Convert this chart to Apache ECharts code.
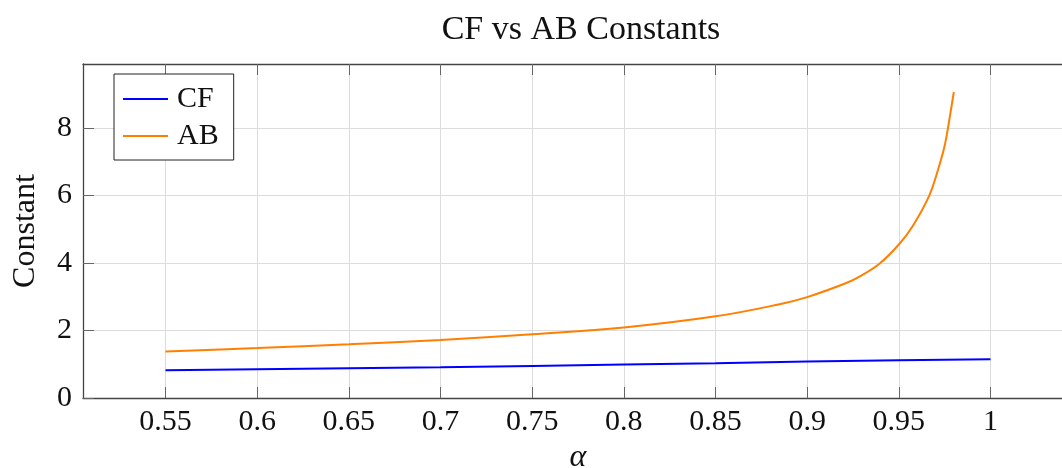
<!DOCTYPE html>
<html>
<head>
    <meta charset="utf-8">
    <title>CF vs AB Constants</title>
    <script src="https://cdn.jsdelivr.net/npm/echarts@6/dist/echarts.min.js"></script>
    <style>
        html, body { margin: 0; padding: 0; background: #fff; }
        #chart { width: 1062px; height: 468px; }
    </style>
</head>
<body>
<div id="chart"></div>
<script>
    // values
    var cfAlpha = [0.55, 0.6, 0.65, 0.7, 0.75, 0.8, 0.85, 0.9, 0.95, 1.0];
    var cfValues = [0.82, 0.85, 0.88, 0.91, 0.95, 0.99, 1.03, 1.08, 1.12, 1.15];

    var abAlpha = [0.55, 0.6, 0.65, 0.7, 0.75, 0.8, 0.85, 0.885, 0.9, 0.921, 0.9285, 0.9394, 0.95, 0.9576, 0.9666, 0.9713, 0.9744, 0.976, 0.978, 0.98];
    var abValues = [1.38, 1.48, 1.59, 1.72, 1.89, 2.09, 2.42, 2.78, 2.99, 3.40, 3.60, 3.98, 4.55, 5.10, 6.00, 6.75, 7.34, 7.75, 8.40, 9.07];

    var xTicks = [0.55, 0.6, 0.65, 0.7, 0.75, 0.8, 0.85, 0.9, 0.95, 1];
    var yTicks = [0, 2, 4, 6, 8];

    function pairs(xs, ys) {
        var out = [];
        for (var i = 0; i < xs.length; i++) out.push([xs[i], ys[i]]);
        return out;
    }

    var serif = '"Liberation Serif", "DejaVu Serif", serif';
    var axisColor = '#444';

    var myChart = echarts.init(document.getElementById('chart'));
    myChart.setOption({
        animation: false,
        title: {
            text: 'CF vs AB Constants',
            left: 576,
            textAlign: 'center',
            top: 8,
            textStyle: { fontFamily: serif, fontSize: 34, fontWeight: 'normal', color: '#111' }
        },
        legend: {
            orient: 'vertical',
            left: 114,
            top: 74,
            padding: [10, 15, 9, 9],
            itemGap: 7,
            itemWidth: 45,
            itemHeight: 2,
            icon: 'rect',
            borderColor: '#222',
            borderWidth: 1,
            backgroundColor: '#fff',
            textStyle: { fontFamily: serif, fontSize: 30, color: '#111', padding: [0, 0, 0, 4] },
            data: ['CF', 'AB']
        },
        grid: { left: 83, top: 64, bottom: 70, right: -11, show: false, outerBoundsMode: 'none', containLabel: false },
        xAxis: [{
            type: 'value',
            min: 0.505,
            max: 1.045,
            name: 'α',
            nameLocation: 'middle',
            nameGap: 41,
            nameTextStyle: { fontFamily: serif, fontSize: 32, fontStyle: 'italic', color: '#111' },
            axisLine: { show: true, onZero: false, lineStyle: { color: axisColor, width: 1.3 } },
            axisTick: { show: true, inside: true, length: 11, customValues: xTicks, lineStyle: { color: '#666' } },
            axisLabel: {
                customValues: xTicks, margin: 9,
                fontFamily: serif, fontSize: 30, color: '#111',
                formatter: function (v) { return String(+v.toFixed(2)); }
            },
            splitLine: { show: true, lineStyle: { color: '#dcdcdc', width: 1 } }
        }, {
            type: 'value',
            position: 'top',
            min: 0.505,
            max: 1.045,
            axisLine: { show: true, onZero: false, lineStyle: { color: axisColor, width: 1.3 } },
            axisTick: { show: true, inside: true, length: 11, customValues: xTicks, lineStyle: { color: '#666' } },
            axisLabel: { show: false },
            splitLine: { show: false }
        }],
        yAxis: [{
            type: 'value',
            min: 0,
            max: 9.9,
            name: 'Constant',
            nameLocation: 'middle',
            nameGap: 41,
            nameTextStyle: { fontFamily: serif, fontSize: 32, color: '#111' },
            axisLine: { show: true, onZero: false, lineStyle: { color: axisColor, width: 1.3 } },
            axisTick: { show: true, inside: true, length: 11, customValues: yTicks, lineStyle: { color: '#666' } },
            axisLabel: { customValues: yTicks, margin: 11, fontFamily: serif, fontSize: 30, color: '#111' },
            splitLine: { show: true, lineStyle: { color: '#dcdcdc', width: 1 } }
        }, {
            type: 'value',
            position: 'right',
            min: 0,
            max: 9.9,
            axisLine: { show: true, onZero: false, lineStyle: { color: axisColor, width: 1.3 } },
            axisTick: { show: true, inside: true, length: 11, customValues: yTicks, lineStyle: { color: '#666' } },
            axisLabel: { show: false },
            splitLine: { show: false }
        }],
        series: [{
            name: 'CF',
            type: 'line',
            xAxisIndex: 0,
            yAxisIndex: 0,
            symbol: 'none',
            smooth: false,
            color: '#0000ff',
            lineStyle: { width: 2, color: '#0000ff' },
            data: pairs(cfAlpha, cfValues)
        }, {
            name: 'AB',
            type: 'line',
            xAxisIndex: 0,
            yAxisIndex: 0,
            symbol: 'none',
            smooth: 0.4,
            color: '#ff7f00',
            lineStyle: { width: 2, color: '#ff7f00' },
            data: pairs(abAlpha, abValues)
        }]
    });
</script>
</body>
</html>
